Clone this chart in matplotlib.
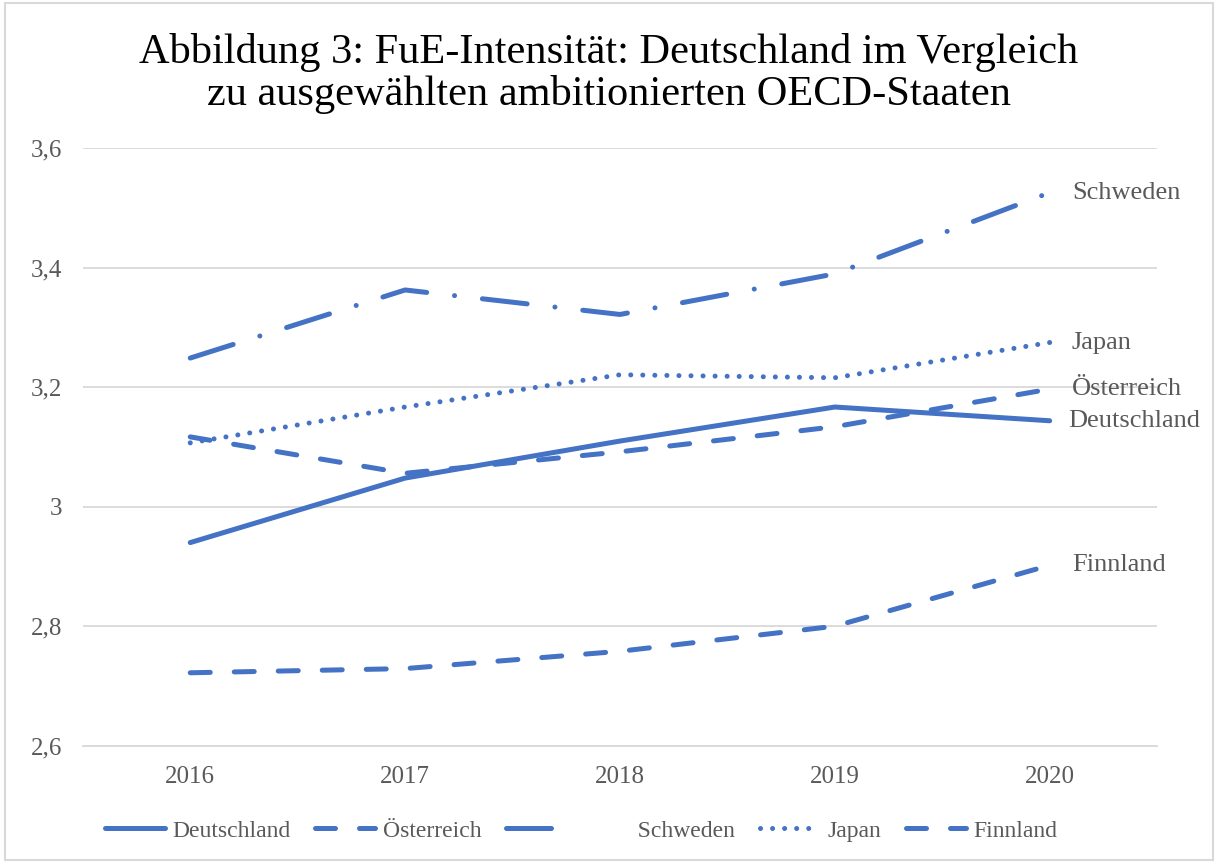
import matplotlib.pyplot as plt
from matplotlib.patches import Rectangle

years = ["2016", "2017", "2018", "2019", "2020"]
deutschland = [2.94, 3.048, 3.11, 3.167, 3.144]
oesterreich = [3.117, 3.056, 3.092, 3.134, 3.197]
schweden = [3.249, 3.363, 3.322, 3.39, 3.526]
japan = [3.107, 3.167, 3.221, 3.216, 3.275]
finnland = [2.722, 2.729, 2.758, 2.80, 2.902]

serif = ["Liberation Serif", "DejaVu Serif"]
blue = "#4472C4"
grey = "#595959"

fig = plt.figure(figsize=(12.18, 8.63), dpi=100)
ax = fig.add_axes([0.068, 0.136, 0.882, 0.692])

x = range(len(years))
lw = 3.6
l1, = ax.plot(x, deutschland, color=blue, lw=lw, solid_capstyle="round")
l2, = ax.plot(x, oesterreich, color=blue, lw=lw, dashes=(4, 4.8), dash_capstyle="round")
l3, = ax.plot(x, schweden, color=blue, lw=lw, dashes=(9, 5.6, 0.01, 5.6), dash_capstyle="round")
l4, = ax.plot(x, japan, color=blue, lw=lw, dashes=(0.01, 2.4), dash_capstyle="round")
l5, = ax.plot(x, finnland, color=blue, lw=lw, dashes=(4, 4.8), dash_capstyle="round")

end_labels = [("Schweden", schweden, 0), ("Japan", japan, 0),
              ("Österreich", oesterreich, 0), ("Deutschland", deutschland, -3),
              ("Finnland", finnland, 0)]
for name, series, dx in end_labels:
    ax.annotate(name, (4, series[-1]), xytext=(16 + dx, 0), textcoords="offset points",
                va="center", ha="left", fontsize=19, family=serif, color=grey)

ax.set_xlim(-0.5, 4.5)
ax.set_ylim(2.6, 3.6)
ax.set_yticks([2.6, 2.8, 3.0, 3.2, 3.4, 3.6])
ax.set_yticklabels(["2,6", "2,8", "3", "3,2", "3,4", "3,6"])
ax.set_xticks(list(x))
ax.set_xticklabels(years)
for lab in ax.get_xticklabels() + ax.get_yticklabels():
    lab.set_family(serif)
    lab.set_fontsize(18)
    lab.set_color(grey)
ax.tick_params(length=0)
ax.tick_params(axis="x", pad=15)
ax.tick_params(axis="y", pad=15)
ax.grid(axis="y", color="#D9D9D9", lw=1.3)
ax.set_axisbelow(True)
for s in ax.spines.values():
    s.set_visible(False)
ax.spines["bottom"].set_visible(True)
ax.spines["bottom"].set_color("#D9D9D9")
ax.spines["bottom"].set_linewidth(1.3)

fig.text(0.5, 0.915, "Abbildung 3: FuE-Intensität: Deutschland im Vergleich\nzu ausgewählten ambitionierten OECD-Staaten",
         ha="center", va="center", fontsize=30.5, family=serif, color="black", linespacing=1.1)

# Schweden's legend entry leaves extra room after its handle, as in the source
leg = fig.legend([l1, l2, l3, l4, l5],
                 ["Deutschland", "Österreich", "           Schweden", "Japan", "Finnland"],
                 loc="lower center", bbox_to_anchor=(0.477, 0.0), ncol=5, frameon=False,
                 prop={"family": serif, "size": 17}, handlelength=2.55, columnspacing=1.05,
                 handletextpad=0.3)
for t in leg.get_texts():
    t.set_color(grey)

fig.patches.append(Rectangle((0.004, 0.004), 0.992, 0.992, transform=fig.transFigure,
                             fill=False, edgecolor="#D9D9D9", lw=1.5))

fig.savefig("out.png", dpi=100)
